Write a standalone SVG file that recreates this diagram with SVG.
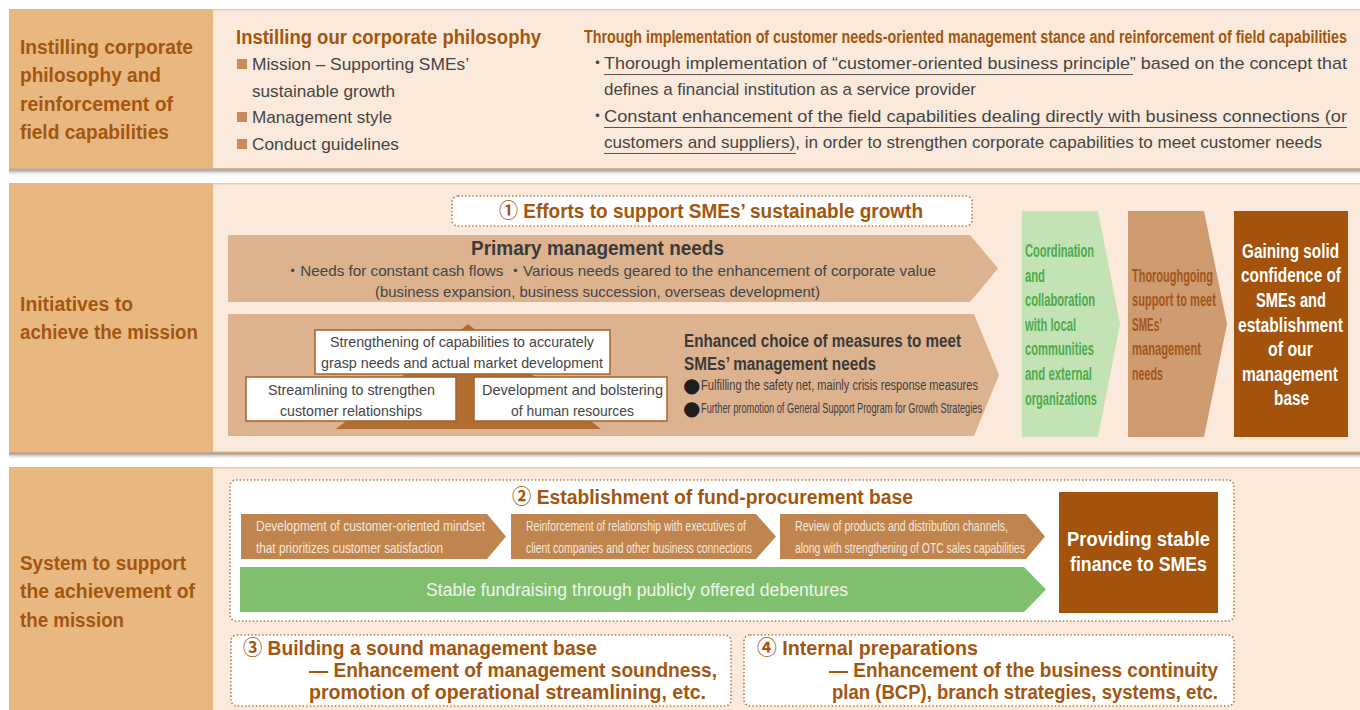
<svg xmlns="http://www.w3.org/2000/svg" width="1360" height="710" viewBox="0 0 1360 710">
  <defs>
    <linearGradient id="shade" x1="0" y1="0" x2="0" y2="1">
      <stop offset="0" stop-color="#8f8f8f"/>
      <stop offset="1" stop-color="#ffffff" stop-opacity="0"/>
    </linearGradient>
    <style>
      text { font-family: 'Liberation Sans', 'Noto Sans CJK JP', 'DejaVu Sans', sans-serif; }
      .side { fill: #e9b880; }
      .panel { fill: #fbeadb; }
      .edge { fill: #f2c99c; }
      .lbl { font-size: 20px; font-weight: bold; fill: #a3560f; }
      .ttl { font-size: 20px; font-weight: bold; fill: #a3560f; }
      .sub { font-size: 18px; font-weight: bold; fill: #a3560f; }
      .body { font-size: 17px; fill: #454545; }
      .dk { font-weight: bold; fill: #3a3a3a; }
      .sm { font-size: 15px; fill: #454545; }
      .xs { font-size: 14.5px; fill: #3f3f3f; }
      .blt { font-family: 'DejaVu Sans', sans-serif; font-size: 20px; fill: #1f1f1f; }
      .dot { fill: #ffffff; stroke: #b5773f; stroke-width: 1.6; stroke-dasharray: 1.4 2.2; }
      .tan { fill: #dcb28f; }
      .card { fill: #ffffff; stroke: #a5612a; stroke-width: 1.5; }
      .grn { font-size: 17.5px; font-weight: bold; fill: #4cab4c; }
      .brn { font-size: 17.5px; font-weight: bold; fill: #a3561a; }
      .wht { font-size: 19.5px; font-weight: bold; fill: #ffffff; }
      .chv { fill: #c0844f; }
      .chvt { font-size: 15px; fill: #f7e8d8; }
      .und { stroke: #555; stroke-width: 1; }
    </style>
  </defs>

  <rect width="1360" height="710" fill="#ffffff"/>

  <!-- band 1: corporate philosophy -->
  <g id="band-philosophy">
    <rect x="9" y="9" width="1351" height="160" class="panel"/>
    <rect x="213" y="9" width="1147" height="1.5" class="edge"/>
    <rect x="9" y="9" width="204" height="160" class="side"/>
    <rect x="9" y="168" width="1351" height="1.5" fill="#d6ad84"/>
    <rect x="9" y="169.5" width="1351" height="7" fill="url(#shade)"/>
    <text class="lbl" x="20" y="54" textLength="173" lengthAdjust="spacingAndGlyphs">Instilling corporate</text>
    <text class="lbl" x="20" y="82" textLength="141" lengthAdjust="spacingAndGlyphs">philosophy and</text>
    <text class="lbl" x="20" y="111" textLength="153" lengthAdjust="spacingAndGlyphs">reinforcement of</text>
    <text class="lbl" x="20" y="139" textLength="149" lengthAdjust="spacingAndGlyphs">field capabilities</text>
  </g>

  <g id="node-philosophy">
    <text class="ttl" x="236" y="44" textLength="305" lengthAdjust="spacingAndGlyphs">Instilling our corporate philosophy</text>
    <rect x="237" y="59" width="10" height="10" fill="#c98a5c"/>
    <text class="body" x="252" y="70" textLength="217" lengthAdjust="spacingAndGlyphs">Mission – Supporting SMEs’</text>
    <text class="body" x="252" y="97" textLength="143" lengthAdjust="spacingAndGlyphs">sustainable growth</text>
    <rect x="237" y="112" width="10" height="10" fill="#c98a5c"/>
    <text class="body" x="252" y="123" textLength="140" lengthAdjust="spacingAndGlyphs">Management style</text>
    <rect x="237" y="139" width="10" height="10" fill="#c98a5c"/>
    <text class="body" x="252" y="150" textLength="147" lengthAdjust="spacingAndGlyphs">Conduct guidelines</text>
  </g>

  <g id="node-field-capabilities">
    <text class="sub" x="584" y="43" textLength="763" lengthAdjust="spacingAndGlyphs">Through implementation of customer needs-oriented management stance and reinforcement of field capabilities</text>
    <text class="body" x="589" y="69">・</text>
    <text class="body" x="604" y="69" textLength="743" lengthAdjust="spacingAndGlyphs">Thorough implementation of “customer-oriented business principle” based on the concept that</text>
    <line class="und" x1="604" y1="74.5" x2="1133" y2="74.5"/>
    <text class="body" x="604" y="95" textLength="372" lengthAdjust="spacingAndGlyphs">defines a financial institution as a service provider</text>
    <text class="body" x="589" y="122">・</text>
    <text class="body" x="604" y="122" textLength="743" lengthAdjust="spacingAndGlyphs">Constant enhancement of the field capabilities dealing directly with business connections (or</text>
    <line class="und" x1="604" y1="127.5" x2="1347" y2="127.5"/>
    <text class="body" x="604" y="148" textLength="718" lengthAdjust="spacingAndGlyphs">customers and suppliers), in order to strengthen corporate capabilities to meet customer needs</text>
    <line class="und" x1="604" y1="153.5" x2="796" y2="153.5"/>
  </g>

  <!-- band 2: initiatives -->
  <g id="band-initiatives">
    <rect x="9" y="183" width="1351" height="269" class="panel"/>
    <rect x="213" y="183" width="1147" height="1.5" class="edge"/>
    <rect x="9" y="183" width="204" height="269" class="side"/>
    <rect x="9" y="451.5" width="1351" height="1.5" fill="#d6ad84"/>
    <rect x="9" y="453" width="1351" height="7" fill="url(#shade)"/>
    <text class="lbl" x="20" y="311" textLength="113" lengthAdjust="spacingAndGlyphs">Initiatives to</text>
    <text class="lbl" x="20" y="339" textLength="178" lengthAdjust="spacingAndGlyphs">achieve the mission</text>
  </g>

  <g id="node-efforts-title">
    <rect class="dot" x="452" y="196" width="520" height="30" rx="6"/>
    <text class="ttl" x="499" y="218" textLength="424" lengthAdjust="spacingAndGlyphs">① Efforts to support SMEs’ sustainable growth</text>
  </g>

  <g id="node-primary-needs">
    <polygon class="tan" points="228,235 970,235 998,268.5 970,302 228,302"/>
    <text class="dk" x="471" y="255" font-size="20" textLength="253" lengthAdjust="spacingAndGlyphs">Primary management needs</text>
    <text class="sm" x="285" y="276" textLength="651" lengthAdjust="spacingAndGlyphs">・Needs for constant cash flows ・Various needs geared to the enhancement of corporate value</text>
    <text class="sm" x="375" y="297" textLength="445" lengthAdjust="spacingAndGlyphs">(business expansion, business succession, overseas development)</text>
  </g>

  <g id="node-enhanced-choice">
    <polygon class="tan" points="228,314 974,314 999,375 974,436 228,436"/>
    <polygon points="468,324 601,429 336,429" fill="#b06e31"/>
    <g id="node-grasp-needs">
      <rect class="card" x="315" y="330" width="295" height="44"/>
      <text class="sm" x="330" y="347" textLength="264" lengthAdjust="spacingAndGlyphs">Strengthening of capabilities to accurately</text>
      <text class="sm" x="321" y="368" textLength="282" lengthAdjust="spacingAndGlyphs">grasp needs and actual market development</text>
    </g>
    <g id="node-streamlining">
      <rect class="card" x="246" y="377" width="210" height="44"/>
      <text class="sm" x="268" y="395" textLength="167" lengthAdjust="spacingAndGlyphs">Streamlining to strengthen</text>
      <text class="sm" x="280" y="416" textLength="142" lengthAdjust="spacingAndGlyphs">customer relationships</text>
    </g>
    <g id="node-human-resources">
      <rect class="card" x="474" y="377" width="193" height="44"/>
      <text class="sm" x="482" y="395" textLength="181" lengthAdjust="spacingAndGlyphs">Development and bolstering</text>
      <text class="sm" x="511" y="416" textLength="123" lengthAdjust="spacingAndGlyphs">of human resources</text>
    </g>
    <text class="dk" x="684" y="347" font-size="17.5" textLength="277" lengthAdjust="spacingAndGlyphs">Enhanced choice of measures to meet</text>
    <text class="dk" x="684" y="370" font-size="17.5" textLength="192" lengthAdjust="spacingAndGlyphs">SMEs’ management needs</text>
    <text class="blt" x="683" y="392">●</text>
    <text class="xs" x="701" y="390" textLength="277" lengthAdjust="spacingAndGlyphs">Fulfilling the safety net, mainly crisis response measures</text>
    <text class="blt" x="683" y="415">●</text>
    <text class="xs" x="701" y="413" textLength="281" lengthAdjust="spacingAndGlyphs">Further promotion of General Support Program for Growth Strategies</text>
  </g>

  <g id="node-coordination">
    <polygon points="1022,211 1098,211 1120,324 1098,437 1022,437" fill="#c4e3b5"/>
    <text class="grn" x="1025" y="257" textLength="69" lengthAdjust="spacingAndGlyphs">Coordination</text>
    <text class="grn" x="1025" y="282" textLength="20" lengthAdjust="spacingAndGlyphs">and</text>
    <text class="grn" x="1025" y="306" textLength="70" lengthAdjust="spacingAndGlyphs">collaboration</text>
    <text class="grn" x="1025" y="331" textLength="51" lengthAdjust="spacingAndGlyphs">with local</text>
    <text class="grn" x="1025" y="355" textLength="69" lengthAdjust="spacingAndGlyphs">communities</text>
    <text class="grn" x="1025" y="380" textLength="67" lengthAdjust="spacingAndGlyphs">and external</text>
    <text class="grn" x="1025" y="405" textLength="72" lengthAdjust="spacingAndGlyphs">organizations</text>
  </g>

  <g id="node-thoroughgoing-support">
    <polygon points="1128,211 1204,211 1227,324 1204,437 1128,437" fill="#cf9b70"/>
    <text class="brn" x="1132" y="282" textLength="81" lengthAdjust="spacingAndGlyphs">Thoroughgoing</text>
    <text class="brn" x="1132" y="306" textLength="84" lengthAdjust="spacingAndGlyphs">support to meet</text>
    <text class="brn" x="1132" y="331" textLength="30" lengthAdjust="spacingAndGlyphs">SMEs’</text>
    <text class="brn" x="1132" y="355" textLength="69" lengthAdjust="spacingAndGlyphs">management</text>
    <text class="brn" x="1132" y="380" textLength="31" lengthAdjust="spacingAndGlyphs">needs</text>
  </g>

  <g id="node-solid-confidence">
    <rect x="1234" y="211" width="114" height="226" fill="#a3530b"/>
    <text class="wht" x="1242" y="258" textLength="97" lengthAdjust="spacingAndGlyphs">Gaining solid</text>
    <text class="wht" x="1241" y="282" textLength="100" lengthAdjust="spacingAndGlyphs">confidence of</text>
    <text class="wht" x="1256" y="307" textLength="70" lengthAdjust="spacingAndGlyphs">SMEs and</text>
    <text class="wht" x="1238" y="332" textLength="105" lengthAdjust="spacingAndGlyphs">establishment</text>
    <text class="wht" x="1268" y="356" textLength="45" lengthAdjust="spacingAndGlyphs">of our</text>
    <text class="wht" x="1242" y="381" textLength="96" lengthAdjust="spacingAndGlyphs">management</text>
    <text class="wht" x="1274" y="405" textLength="35" lengthAdjust="spacingAndGlyphs">base</text>
  </g>

  <!-- band 3: supporting system -->
  <g id="band-system">
    <rect x="9" y="467" width="1351" height="243" class="panel"/>
    <rect x="213" y="467" width="1147" height="1.5" class="edge"/>
    <rect x="9" y="467" width="204" height="243" class="side"/>
    <text class="lbl" x="20" y="570" textLength="166" lengthAdjust="spacingAndGlyphs">System to support</text>
    <text class="lbl" x="20" y="598" textLength="175" lengthAdjust="spacingAndGlyphs">the achievement of</text>
    <text class="lbl" x="20" y="627" textLength="104" lengthAdjust="spacingAndGlyphs">the mission</text>
  </g>

  <g id="node-fund-procurement">
    <rect class="dot" x="230" y="480" width="1004" height="141" rx="6"/>
    <text class="ttl" x="512" y="504" textLength="401" lengthAdjust="spacingAndGlyphs">② Establishment of fund-procurement base</text>
    <g id="node-mindset">
      <polygon class="chv" points="241,514 487,514 506,536.5 487,559 241,559"/>
      <text class="chvt" x="256" y="531" textLength="229" lengthAdjust="spacingAndGlyphs">Development of customer-oriented mindset</text>
      <text class="chvt" x="256" y="553" textLength="187" lengthAdjust="spacingAndGlyphs">that prioritizes customer satisfaction</text>
    </g>
    <g id="node-executives">
      <polygon class="chv" points="511,514 756,514 776,536.5 756,559 511,559"/>
      <text class="chvt" x="526" y="531" textLength="220" lengthAdjust="spacingAndGlyphs">Reinforcement of relationship with executives of</text>
      <text class="chvt" x="526" y="553" textLength="226" lengthAdjust="spacingAndGlyphs">client companies and other business connections</text>
    </g>
    <g id="node-products">
      <polygon class="chv" points="780,514 1026,514 1045,536.5 1026,559 780,559"/>
      <text class="chvt" x="795" y="531" textLength="213" lengthAdjust="spacingAndGlyphs">Review of products and distribution channels,</text>
      <text class="chvt" x="795" y="553" textLength="230" lengthAdjust="spacingAndGlyphs">along with strengthening of OTC sales capabilities</text>
    </g>
    <g id="node-debentures">
      <polygon points="240,567 1024,567 1046,589.5 1024,612 240,612" fill="#80bf6e"/>
      <text x="426" y="596" font-size="17.5" fill="#eef7ea" textLength="422" lengthAdjust="spacingAndGlyphs">Stable fundraising through publicly offered debentures</text>
    </g>
    <g id="node-stable-finance">
      <rect x="1059" y="492" width="159" height="121" fill="#a3530b"/>
      <text class="wht" x="1067" y="546" textLength="143" lengthAdjust="spacingAndGlyphs">Providing stable</text>
      <text class="wht" x="1070" y="571" textLength="137" lengthAdjust="spacingAndGlyphs">finance to SMEs</text>
    </g>
  </g>

  <g id="node-management-base">
    <rect class="dot" x="231" y="635" width="500" height="71" rx="6"/>
    <text class="ttl" x="243" y="655" textLength="354" lengthAdjust="spacingAndGlyphs">③ Building a sound management base</text>
    <text class="ttl" x="309" y="677" textLength="408" lengthAdjust="spacingAndGlyphs">— Enhancement of management soundness,</text>
    <text class="ttl" x="309" y="699" textLength="397" lengthAdjust="spacingAndGlyphs">promotion of operational streamlining, etc.</text>
  </g>

  <g id="node-internal-preparations">
    <rect class="dot" x="744" y="635" width="490" height="71" rx="6"/>
    <text class="ttl" x="757" y="655" textLength="221" lengthAdjust="spacingAndGlyphs">④ Internal preparations</text>
    <text class="ttl" x="829" y="677" textLength="389" lengthAdjust="spacingAndGlyphs">— Enhancement of the business continuity</text>
    <text class="ttl" x="832" y="699" textLength="386" lengthAdjust="spacingAndGlyphs">plan (BCP), branch strategies, systems, etc.</text>
  </g>

  <g id="connectors"/>
</svg>
